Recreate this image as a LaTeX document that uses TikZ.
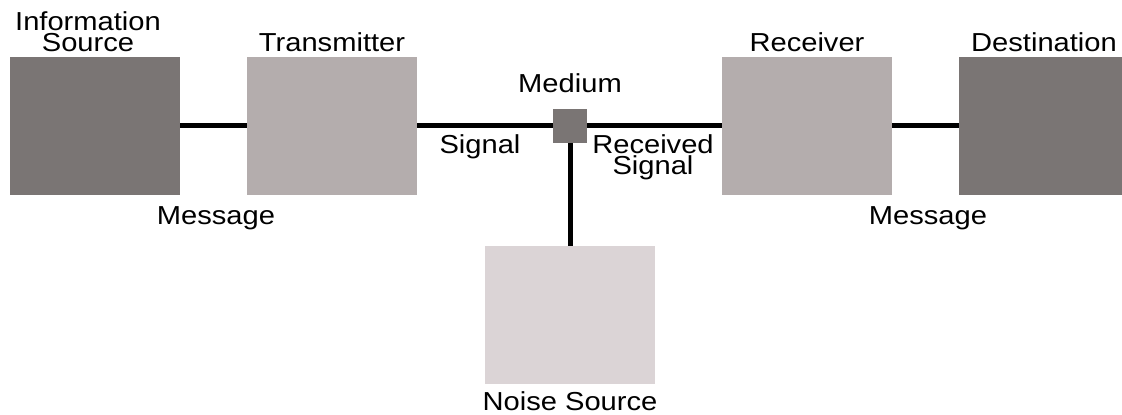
\documentclass[tikz,border=0pt]{standalone}
\usepackage{fontspec}
\setmainfont[FakeStretch=1.12]{Liberation Sans}
\usetikzlibrary{positioning}
\definecolor{BoxDark}{HTML}{7A7574}
\definecolor{BoxLight}{HTML}{B4ADAD}
\definecolor{BoxPale}{HTML}{DBD4D6}

\begin{document}
\begin{tikzpicture}[x=1pt,y=1pt,node distance=67pt]
  \tikzstyle{unit}=[inner sep=0pt,outer sep=0pt,
    minimum width=170pt,minimum height=138pt]
  \tikzstyle{lbl}=[inner sep=0pt,outer sep=0pt,align=center,
    font=\fontsize{26}{21}\selectfont]
  \tikzstyle{wire}=[line width=5pt]
  \useasboundingbox (0,0) rectangle (1122,415);
  % the chain of boxes
  \node[unit,fill=BoxDark] (src) at (95,289) {};
  \node[unit,fill=BoxLight,right=of src] (tx) {};
  \node[unit,fill=BoxDark,inner sep=0pt,minimum width=34pt,minimum height=34pt,
    right=136pt of tx] (med) {};
  \node[unit,fill=BoxLight,right=135pt of med] (rx) {};
  \node[unit,fill=BoxDark,right=of rx] (dst) {};
  \node[unit,fill=BoxPale,below=103pt of med] (noise) {};
  \draw[wire] (src)--(tx);
  \draw[wire] (tx)--(med);
  \draw[wire] (med)--(rx);
  \draw[wire] (rx)--(dst);
  \draw[wire] (med)--(noise);
  % titles
  \node[lbl,above=5pt of src,anchor=base,xshift=-7pt] (srclab) {Information\\Source};
  \node[lbl,above=5pt of tx,anchor=base] (txlab) {Transmitter};
  \node[lbl,above=16pt of med,anchor=base] (medlab) {Medium};
  \node[lbl,above=5pt of rx,anchor=base] (rxlab) {Receiver};
  \node[lbl,above=5pt of dst,anchor=base] (dstlab) {Destination};
  \node[lbl,below=27pt of noise,anchor=base] (noiselab) {Noise Source};
  % signal labels
  \node[lbl,anchor=base] (msg1) at (216,190) {Message};
  \node[lbl,anchor=base] (sig) at (480,261) {Signal};
  \node[lbl,anchor=base] (rsig) at (653,240) {Received\\Signal};
  \node[lbl,anchor=base] (msg2) at (928,190) {Message};
\end{tikzpicture}
\end{document}
